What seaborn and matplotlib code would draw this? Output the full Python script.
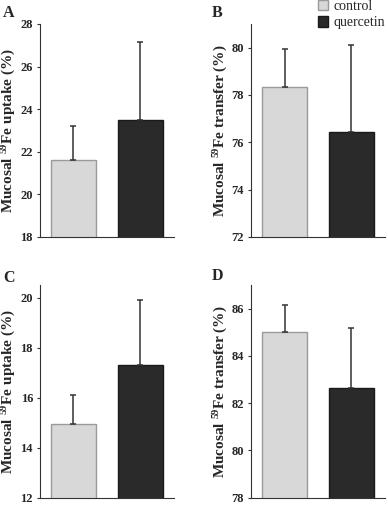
import numpy as np
import pandas as pd
import matplotlib
matplotlib.use("Agg")
import matplotlib.pyplot as plt
import seaborn as sns
from matplotlib.patches import Patch

# datos
groups = ["control", "quercetin"]
uptake_a = [21.6, 23.5]
uptake_a_sd = [1.6, 3.65]
transfer_b = [78.35, 76.45]
transfer_b_sd = [1.6, 3.65]
uptake_c = [14.95, 17.3]
uptake_c_sd = [1.15, 2.6]
transfer_d = [85.0, 82.65]
transfer_d_sd = [1.15, 2.55]

sns.set_style("white")
plt.rcParams['font.family'] = ['Liberation Serif', 'DejaVu Serif']
plt.rcParams['mathtext.fontset'] = 'custom'
plt.rcParams['mathtext.rm'] = 'Liberation Serif:bold'
plt.rcParams['mathtext.it'] = 'Liberation Serif:bold'
plt.rcParams['mathtext.bf'] = 'Liberation Serif:bold'

colors = {"control": "#d8d8d8", "quercetin": "#2a2a2a"}
edges = ["#9a9a9a", "#1a1a1a"]

fig = plt.figure(figsize=(3.88, 5.05), dpi=100)

panels = [
    ("A", uptake_a, uptake_a_sd, (18, 28), np.arange(18, 29, 2),
     r"Mucosal $^{59}$Fe uptake (%)", [0.103, 0.5307, 0.345, 0.422], (0.008, 0.974)),
    ("B", transfer_b, transfer_b_sd, (72, 81), np.arange(72, 81, 2),
     r"Mucosal $^{59}$Fe transfer (%)", [0.647, 0.5307, 0.345, 0.422], (0.545, 0.974)),
    ("C", uptake_c, uptake_c_sd, (12, 20.5), np.arange(12, 21, 2),
     r"Mucosal $^{59}$Fe uptake (%)", [0.103, 0.0145, 0.345, 0.421], (0.008, 0.45)),
    ("D", transfer_d, transfer_d_sd, (78, 87), np.arange(78, 87, 2),
     r"Mucosal $^{59}$Fe transfer (%)", [0.647, 0.0145, 0.345, 0.421], (0.545, 0.453)),
]

for letter, vals, sds, ylim, ticks, ylabel, rect, lpos in panels:
    ax = fig.add_axes(rect)
    df = pd.DataFrame({"group": groups, "value": vals})
    sns.barplot(data=df, x="group", y="value", hue="group", palette=colors,
                errorbar=None, width=0.67, legend=False, ax=ax)
    for p, ec in zip(ax.patches, edges):
        p.set_edgecolor(ec)
        p.set_linewidth(1.0)
    ax.errorbar(x=range(len(groups)), y=vals, yerr=[[0] * len(sds), sds],
                fmt="none", ecolor="#333333", elinewidth=1.1, capsize=2.5,
                capthick=1.1)
    ax.set_xlim(-0.5, 1.5)
    ax.set_ylim(*ylim)
    ax.set_yticks(ticks)
    ax.set_yticklabels([str(t) for t in ticks], fontweight="bold", fontsize=9)
    ax.set_xticks([])
    ax.set_xlabel("")
    ax.set_ylabel(ylabel, fontsize=11, fontweight="bold", labelpad=1.5)
    ax.tick_params(axis="y", left=True, length=2.5, width=0.8, pad=2.5,
                   color="#333333")
    for s in ["top", "right"]:
        ax.spines[s].set_visible(False)
    for s in ["left", "bottom"]:
        ax.spines[s].set_color("#333333")
        ax.spines[s].set_linewidth(0.8)
    fig.text(lpos[0], lpos[1], letter, fontsize=11.5, fontweight="bold",
             va="center", ha="left")

handles = [Patch(facecolor=colors[g], edgecolor=e, label=g)
           for g, e in zip(groups, edges)]
fig.legend(handles=handles, loc="upper right", bbox_to_anchor=(1.025, 1.025),
           frameon=False, fontsize=10, handlelength=0.75, handleheight=0.75,
           handletextpad=0.4, labelspacing=0.25)

fig.savefig("out.png", dpi=100)
